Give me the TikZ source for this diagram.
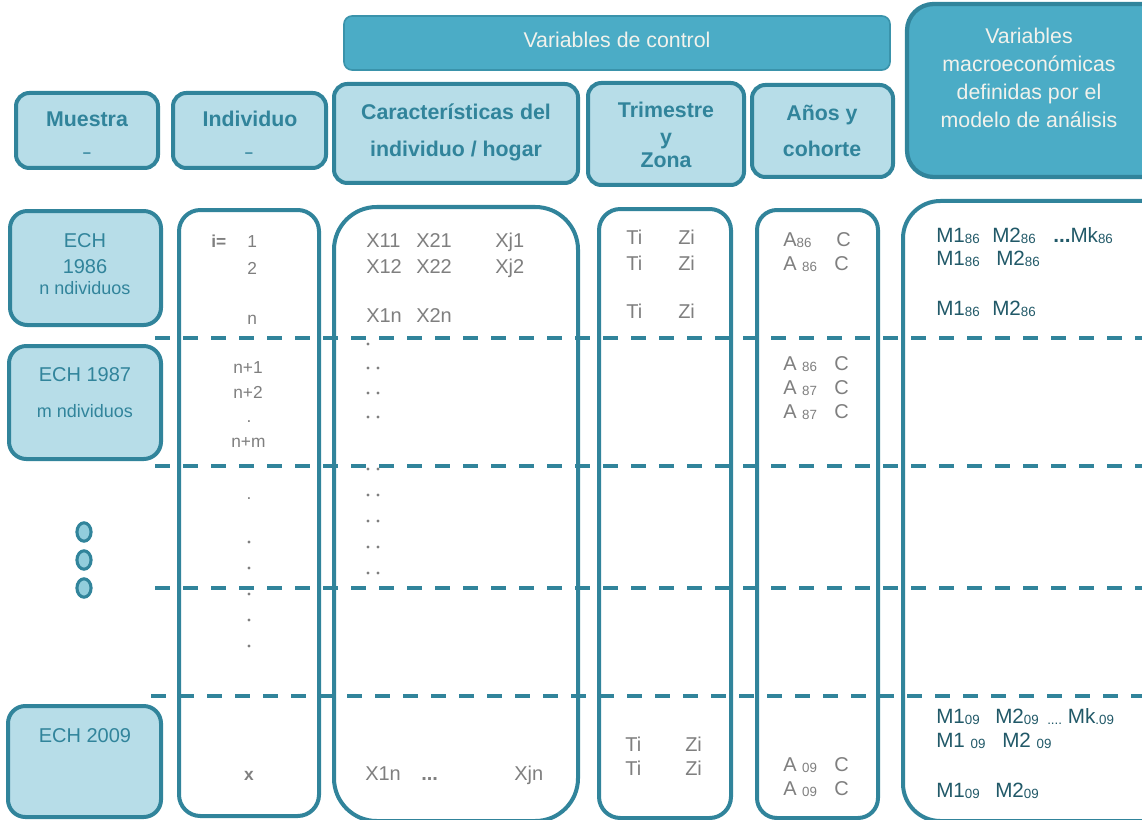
\documentclass[tikz,border=0pt]{standalone}
\usepackage{fontspec}
\setmainfont{Liberation Sans}
\definecolor{edgeteal}{HTML}{31849B}
\definecolor{lightcell}{HTML}{B7DDE8}
\definecolor{midcell}{HTML}{4BACC6}
\definecolor{midedge}{HTML}{3A93AB}
\definecolor{ovalcell}{HTML}{92CDDC}
\definecolor{valgray}{HTML}{7F7F7F}
\definecolor{macrotext}{HTML}{215968}
\definecolor{paletext}{HTML}{F2F2EC}
% lowered small index (years, periods)
\newcommand\lowsub[1]{\raisebox{-1.2pt}{\fontsize{10}{11}\selectfont #1}}

\begin{document}
\begin{tikzpicture}[x=0.75pt,y=-0.75pt,
  hdrbox/.style={draw=edgeteal, line width=3pt, fill=lightcell, rounded corners=10pt},
  samplebox/.style={hdrbox, rounded corners=13pt},
  colbox/.style={draw=edgeteal, line width=3pt, fill=white},
  sepline/.style={draw=edgeteal, line width=3pt, dash pattern=on 11.6pt off 9.4pt},
  ovalmark/.style={draw=edgeteal, line width=2.3pt, fill=ovalcell},
  hd/.style={font=\fontsize{16}{19}\selectfont\bfseries, text=edgeteal, inner sep=0pt, anchor=base},
  pale/.style={font=\fontsize{16}{19}\selectfont, text=paletext, inner sep=0pt, anchor=base},
  ech/.style={font=\fontsize{15}{18}\selectfont, text=edgeteal, inner sep=0pt, anchor=base},
  echsmall/.style={font=\fontsize{13.5}{16}\selectfont, text=edgeteal, inner sep=0pt, anchor=base},
  idx/.style={font=\fontsize{13}{15}\selectfont, text=valgray, inner sep=0pt, anchor=base west},
  val/.style={font=\fontsize{15}{18}\selectfont, text=valgray, inner sep=0pt, anchor=base west},
  mac/.style={font=\fontsize{15.5}{18}\selectfont, text=macrotext, inner sep=0pt, anchor=base west},
  valdot/.style={fill=valgray}
]
\useasboundingbox (0,0) rectangle (1142,820);
\clip (0,0) rectangle (1142,820);

% ---- top band: control variables / macro variables
\draw[fill=midcell, draw=midedge, line width=1.2pt, rounded corners=6pt] (344,16) rectangle (890,70);
\node[pale] (ctrl) at (617,48) {Variables de control};

\draw[fill=midcell, draw=edgeteal, line width=3.2pt, rounded corners=20pt] (907,4) rectangle (1190,177);
\node[pale] (mv1) at (1029,44)  {Variables};
\node[pale] (mv2) at (1029,72)  {macroeconómicas};
\node[pale] (mv3) at (1029,100) {definidas por el};
\node[pale] (mv4) at (1029,128) {modelo de análisis};

% ---- column headers
\draw[hdrbox] (16,93) rectangle (158,168);
\node[hd] (hmuestra) at (87,127) {Muestra};
\node[hd, font=\fontsize{11}{13}\selectfont\bfseries] (hmdash) at (87,157.5) {–};

\draw[hdrbox] (173,93) rectangle (326,168);
\node[hd] (hindiv) at (250,127) {Individuo};
\node[hd, font=\fontsize{11}{13}\selectfont\bfseries] (hidash) at (249,157.5) {–};

\draw[hdrbox] (334,84) rectangle (578,183);
\node[hd] (hcar1) at (456,120) {Características del};
\node[hd] (hcar2) at (456,157) {individuo / hogar};

\draw[hdrbox] (588,83) rectangle (744,185);
\node[hd] (htri1) at (666,118) {Trimestre};
\node[hd] (htri2) at (666,145) {y};
\node[hd] (htri3) at (666,168) {Zona};

\draw[hdrbox] (752,85) rectangle (893,177);
\node[hd] (hanos1) at (822,121) {Años y};
\node[hd] (hanos2) at (822,157) {cohorte};

% ---- data columns
\draw[colbox, rounded corners=16pt] (179,210) rectangle (319,816);
\draw[colbox, rounded corners=32pt] (334,207) rectangle (578,821);
\draw[colbox, rounded corners=16pt] (599,209) rectangle (731,818);
\draw[colbox, rounded corners=15pt] (757,210) rectangle (878,818);
\draw[colbox, rounded corners=28pt] (903,201) rectangle (1190,821);

% ---- samples
\draw[samplebox] (10,211) rectangle (161,325);
\node[ech] (s86a) at (85,247) {ECH};
\node[ech] (s86b) at (85,273) {1986};
\node[echsmall] (s86c) at (85,294) {n ndividuos};

\draw[samplebox] (9,346) rectangle (161,459);
\node[ech] (s87a) at (85,381) {ECH 1987};
\node[echsmall] (s87b) at (85,417) {m ndividuos};

\draw[samplebox] (8,706) rectangle (161,817);
\node[ech] (s09a) at (85,742) {ECH 2009};

\draw[ovalmark] (84,532) ellipse [x radius=5.3pt, y radius=6.9pt];
\draw[ovalmark] (84,560) ellipse [x radius=5.3pt, y radius=6.9pt];
\draw[ovalmark] (84,588) ellipse [x radius=5.3pt, y radius=6.9pt];

% ---- individual index
\node[idx, font=\fontsize{13}{15}\selectfont\bfseries] (ieq) at (211,247) {i=};
\node[idx] (i1) at (247,247) {1};
\node[idx] (i2) at (247,274) {2};
\node[idx] (in) at (247,324) {n};
\node[idx] (in1) at (233,373) {n+1};
\node[idx] (in2) at (233,398) {n+2};
\node[idx, anchor=base] (idt) at (249,422) {.};
\node[idx] (inm) at (231,447) {n+m};
\node[idx, anchor=base] (idt2) at (249,499) {.};
\foreach \yy in {542,568,594,620,646} \fill[valdot] (249,\yy) circle [radius=1.3pt];
\node[idx, anchor=base, font=\fontsize{13}{15}\selectfont\bfseries] (ix) at (249,780) {x};

% ---- individual / household characteristics
\node[val] (c11) at (366,247) {X11};
\node[val] (c21) at (416,247) {X21};
\node[val] (cj1) at (495,247) {Xj1};
\node[val] (c12) at (366,273) {X12};
\node[val] (c22) at (416,273) {X22};
\node[val] (cj2) at (495,273) {Xj2};
\node[val] (c1n) at (366,322) {X1n};
\node[val] (c2n) at (416,322) {X2n};
\fill[valdot] (368,344) circle [radius=1.2pt];
\foreach \yy in {368,393,417,469,495,521,547,573} {
  \fill[valdot] (368,\yy) circle [radius=1.3pt];
  \fill[valdot] (378,\yy) circle [radius=1.3pt];
}
\node[val] (b1n) at (365,780) {X1n};
\node[val, font=\fontsize{15}{18}\selectfont\bfseries] (bdots) at (421,780) {...};
\node[val] (bjn) at (514,780) {Xjn};

% ---- quarter and zone
\node[val] (t1) at (626,244) {Ti};
\node[val] (z1) at (678,244) {Zi};
\node[val] (t2) at (626,270) {Ti};
\node[val] (z2) at (678,270) {Zi};
\node[val] (t3) at (626,318) {Ti};
\node[val] (z3) at (678,318) {Zi};
\node[val] (t4) at (625,751) {Ti};
\node[val] (z4) at (685,751) {Zi};
\node[val] (t5) at (625,775) {Ti};
\node[val] (z5) at (685,775) {Zi};

% ---- years and cohort
\node[val] (a1) at (783,246) {A\lowsub{86}};
\node[val] (k1) at (836,246) {C};
\node[val] (a2) at (783,270) {A \lowsub{86}};
\node[val] (k2) at (834,270) {C};
\node[val] (a3) at (783,370) {A \lowsub{86}};
\node[val] (k3) at (834,370) {C};
\node[val] (a4) at (783,394) {A \lowsub{87}};
\node[val] (k4) at (834,394) {C};
\node[val] (a5) at (783,418) {A \lowsub{87}};
\node[val] (k5) at (834,418) {C};
\node[val] (a6) at (783,771) {A \lowsub{09}};
\node[val] (k6) at (834,771) {C};
\node[val] (a7) at (783,795) {A \lowsub{09}};
\node[val] (k7) at (834,795) {C};

% ---- macroeconomic variables
\node[mac] (m11) at (936,242) {M1\lowsub{86}};
\node[mac] (m12) at (992,242) {M2\lowsub{86}};
\node[mac] (m1k) at (1053,242) {\textbf{...}Mk\lowsub{86}};
\node[mac] (m21) at (936,265) {M1\lowsub{86}};
\node[mac] (m22) at (996,265) {M2\lowsub{86}};
\node[mac] (m31) at (936,315) {M1\lowsub{86}};
\node[mac] (m32) at (992,315) {M2\lowsub{86}};

\node[mac] (n11) at (936,723) {M1\lowsub{09}};
\node[mac] (n12) at (995,723) {M2\lowsub{09}};
\node[mac] (n1k) at (1047,723) {\lowsub{....} Mk\lowsub{.09}};
\node[mac] (n21) at (936,747) {M1 \lowsub{09}};
\node[mac] (n22) at (1002,747) {M2 \lowsub{09}};
\node[mac] (n31) at (936,797) {M1\lowsub{09}};
\node[mac] (n32) at (995,797) {M2\lowsub{09}};

% ---- block separators
\draw[sepline] (155,338) -- (1142,338);
\draw[sepline] (155,466) -- (1142,466);
\draw[sepline] (155,588) -- (1142,588);
\draw[sepline] (151,696) -- (1142,696);
\end{tikzpicture}
\end{document}
